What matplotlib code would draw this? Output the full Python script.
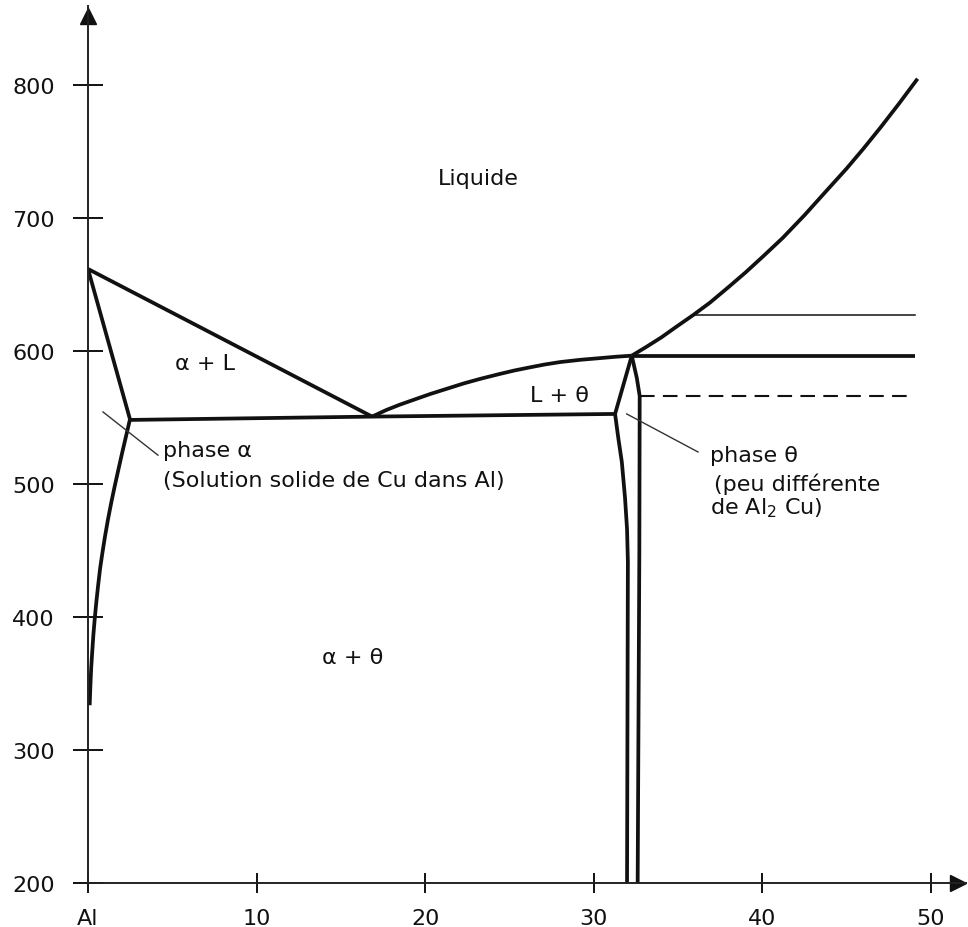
import matplotlib.pyplot as plt

# temperature axis / composition axis
yticks=[200,300,400,500,600,700,800]
xticks=[0,10,20,30,40,50]
xticklabels=['Al','10','20','30','40','50']

# alpha + L liquidus
liq1_x=[0.0,16.85]
liq1_y=[662,551]
# solidus alpha
sol_x=[0.0,2.49]
sol_y=[662,549]
# solvus alpha
solv_x=[2.49,2.27,2.03,1.80,1.59,1.39,1.19,1.01,0.86,0.72,0.6,0.49,0.4,0.32,0.25,0.19,0.14,0.1]
solv_y=[549,537,524,511,499,487,474,461,449,437,424,411,399,387,374,362,348,334]
# eutectic line
eut_x=[2.49,16.85,31.26]
eut_y=[548.5,551,553]
# liquidus L + theta
liq2_x=[16.85,17.7,18.5,19.4,20.3,21.3,22.3,23.3,24.4,25.3,26.2,27.1,28.0,29.2,30.4,31.3,32.25]
liq2_y=[551,556,560,564,568,572,576,579.5,583,585.7,588,590.2,592,593.7,595,596,596.8]
# liquidus right side
liq3_x=[32.25,33.1,34.0,34.9,35.9,36.9,38.0,39.0,40.0,41.2,42.5,43.7,45.0,46.0,47.0,48.1,49.2]
liq3_y=[596.8,603.3,610.5,618.6,627.4,636.8,648.5,659.4,671,685.3,702.5,719.4,737.6,752.6,768.3,786.3,805]
# theta phase boundaries
thl_x=[32.25,31.26,31.45,31.66,31.85,31.97,32.02,31.97]
thl_y=[596.8,553,535,517,490,466.5,441.7,200]
thr_x=[32.25,32.55,32.72,32.70,32.6]
thr_y=[596.8,580,566.5,450,200]
# horizontal lines on the right
hthick_x=[32.25,49.05]; hthick_y=[596.8,596.8]
hdash_x=[32.72,49.05]; hdash_y=[566.5,566.5]
hthin_x=[35.9,49.05]; hthin_y=[627.4,627.4]
# leader lines
lead_a_x=[0.89,4.15]; lead_a_y=[554.5,522]
lead_t_x=[31.95,36.18]; lead_t_y=[553,524.4]

fig=plt.figure(figsize=(9.68,9.28),dpi=100)
ax=fig.add_axes([0.0909,0.0469,0.9075,0.946])
ax.set_xlim(0,52.1)
ax.set_ylim(200,860)

lw=2.7
c='#111111'
for xs,ys in [(liq1_x,liq1_y),(sol_x,sol_y),(solv_x,solv_y),(eut_x,eut_y),
              (liq2_x,liq2_y),(liq3_x,liq3_y),(thl_x,thl_y),(thr_x,thr_y),
              (hthick_x,hthick_y)]:
  ax.plot(xs,ys,color=c,lw=lw,solid_joinstyle='round',solid_capstyle='butt')

ax.plot(hdash_x,hdash_y,color=c,lw=1.5,dashes=(7,4))
ax.plot(hthin_x,hthin_y,color=c,lw=1.1)
ax.plot(lead_a_x,lead_a_y,color='#333333',lw=1.0)
ax.plot(lead_t_x,lead_t_y,color='#333333',lw=1.0)

fs=16
tc='#111111'
ax.text(23.15,726,'Liquide',fontsize=fs,color=tc,ha='center',va='baseline')
ax.text(6.96,586.7,'α + L',fontsize=fs,color=tc,ha='center',va='baseline')
ax.text(27.98,562.6,'L + θ',fontsize=fs,color=tc,ha='center',va='baseline')
ax.text(15.71,365.8,'α + θ',fontsize=fs,color=tc,ha='center',va='baseline')
ax.text(4.46,521.1,'phase α',fontsize=fs,color=tc,ha='left',va='baseline')
ax.text(4.46,499.2,'(Solution solide de Cu dans Al)',fontsize=fs,color=tc,ha='left',va='baseline')
ax.text(36.9,517.3,'phase θ',fontsize=fs,color=tc,ha='left',va='baseline')
ax.text(37.14,495.5,'(peu différente',fontsize=fs,color=tc,ha='left',va='baseline')
ax.text(36.9,478.1,r'de Al$_2$ Cu)',fontsize=fs,color=tc,ha='left',va='baseline')

for s in ['top','right']:
  ax.spines[s].set_visible(False)
for s in ['left','bottom']:
  ax.spines[s].set_linewidth(1.4)
  ax.spines[s].set_color('#222222')

ax.set_xticks(xticks)
ax.set_xticklabels(xticklabels)
ax.set_yticks(yticks)
ax.tick_params(axis='y',direction='inout',length=22,width=1.4,pad=13,labelsize=fs,colors='#111111')
ax.tick_params(axis='x',direction='inout',length=15,width=1.4,pad=10,labelsize=fs,colors='#111111')

ax.plot(0,852,marker='^',color='#111111',markersize=11,clip_on=False)
ax.plot(51.6,200,marker='>',color='#111111',markersize=11,clip_on=False)

plt.savefig('out.png')
